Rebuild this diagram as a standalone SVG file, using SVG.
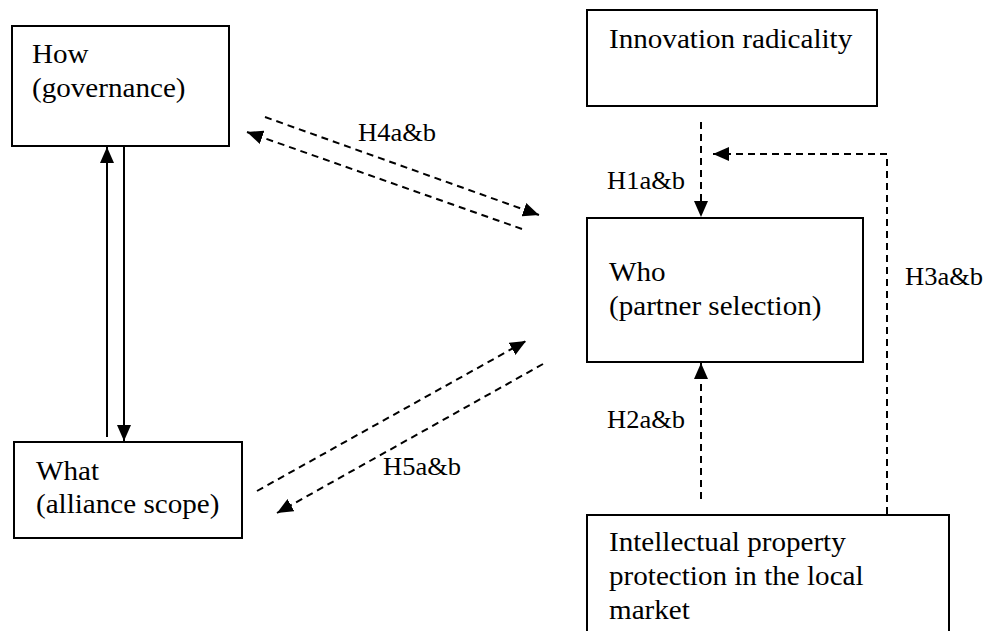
<svg xmlns="http://www.w3.org/2000/svg" width="986" height="631" viewBox="0 0 986 631">
  <style>
    .box { fill: #ffffff; stroke: #000000; stroke-width: 2; }
    .txt { font-family: "Liberation Serif", "Times New Roman", serif; font-size: 28px; fill: #000000; }
    .lbl { font-family: "Liberation Serif", "Times New Roman", serif; font-size: 26px; fill: #000000; }
    .solid { fill: none; stroke: #000000; stroke-width: 2; }
    .dash { fill: none; stroke: #000000; stroke-width: 2; stroke-dasharray: 7 5; }
  </style>
  <defs>
    <marker id="head" viewBox="0 0 16 14" refX="16" refY="7" markerWidth="16" markerHeight="14" markerUnits="userSpaceOnUse" orient="auto">
      <path d="M0,0 L16,7 L0,14 Z" fill="#000000"/>
    </marker>
  </defs>
  <rect width="986" height="631" fill="#ffffff"/>

  <g id="connectors">
    <!-- How <-> What, solid pair -->
    <line class="solid" x1="107" y1="437" x2="107" y2="147" marker-end="url(#head)"/>
    <line class="solid" x1="124" y1="147" x2="124" y2="441" marker-end="url(#head)"/>
    <!-- H4: How <-> Who -->
    <line class="dash" x1="265" y1="117" x2="539" y2="215" marker-end="url(#head)"/>
    <line class="dash" x1="522" y1="229" x2="247" y2="132" marker-end="url(#head)"/>
    <!-- H5: What <-> Who -->
    <line class="dash" x1="257" y1="491" x2="526" y2="341" marker-end="url(#head)"/>
    <line class="dash" x1="543" y1="364" x2="277" y2="513" marker-end="url(#head)"/>
    <!-- H1: Innovation radicality -> Who -->
    <line class="dash" x1="701" y1="122" x2="701" y2="217" marker-end="url(#head)"/>
    <!-- H2: IP protection -> Who -->
    <line class="dash" x1="701" y1="499" x2="701" y2="363" marker-end="url(#head)"/>
    <!-- H3: IP protection moderates H1 -->
    <path class="dash" d="M887,514 V154 H713" marker-end="url(#head)"/>
    <text class="lbl" transform="translate(358 141) scale(1.02 1)">H4a&amp;b</text>
    <text class="lbl" transform="translate(607 189) scale(1.02 1)">H1a&amp;b</text>
    <text class="lbl" transform="translate(905 285) scale(1.02 1)">H3a&amp;b</text>
    <text class="lbl" transform="translate(607 428) scale(1.02 1)">H2a&amp;b</text>
    <text class="lbl" transform="translate(383 475) scale(1.02 1)">H5a&amp;b</text>
  </g>

  <g id="how">
    <rect class="box" x="12" y="26" width="217" height="120"/>
    <text class="txt" transform="translate(32 63) scale(1.04 1)"><tspan x="0" y="0">How</tspan><tspan x="0" y="34">(governance)</tspan></text>
  </g>

  <g id="what">
    <rect class="box" x="14" y="442" width="228" height="96"/>
    <text class="txt" transform="translate(36 480) scale(1.04 1)"><tspan x="0" y="0">What</tspan><tspan x="0" y="33">(alliance scope)</tspan></text>
  </g>

  <g id="innovation">
    <rect class="box" x="587" y="10" width="290" height="96"/>
    <text class="txt" transform="translate(609 48) scale(1.04 1)">Innovation radicality</text>
  </g>

  <g id="who">
    <rect class="box" x="587" y="218" width="276" height="144"/>
    <text class="txt" transform="translate(609 281) scale(1.04 1)"><tspan x="0" y="0">Who</tspan><tspan x="0" y="34">(partner selection)</tspan></text>
  </g>

  <g id="ip">
    <rect class="box" x="587" y="515" width="362" height="130"/>
    <text class="txt" transform="translate(609 551) scale(1.04 1)"><tspan x="0" y="0">Intellectual property</tspan><tspan x="0" y="34">protection in the local</tspan><tspan x="0" y="68">market</tspan></text>
  </g>
</svg>
